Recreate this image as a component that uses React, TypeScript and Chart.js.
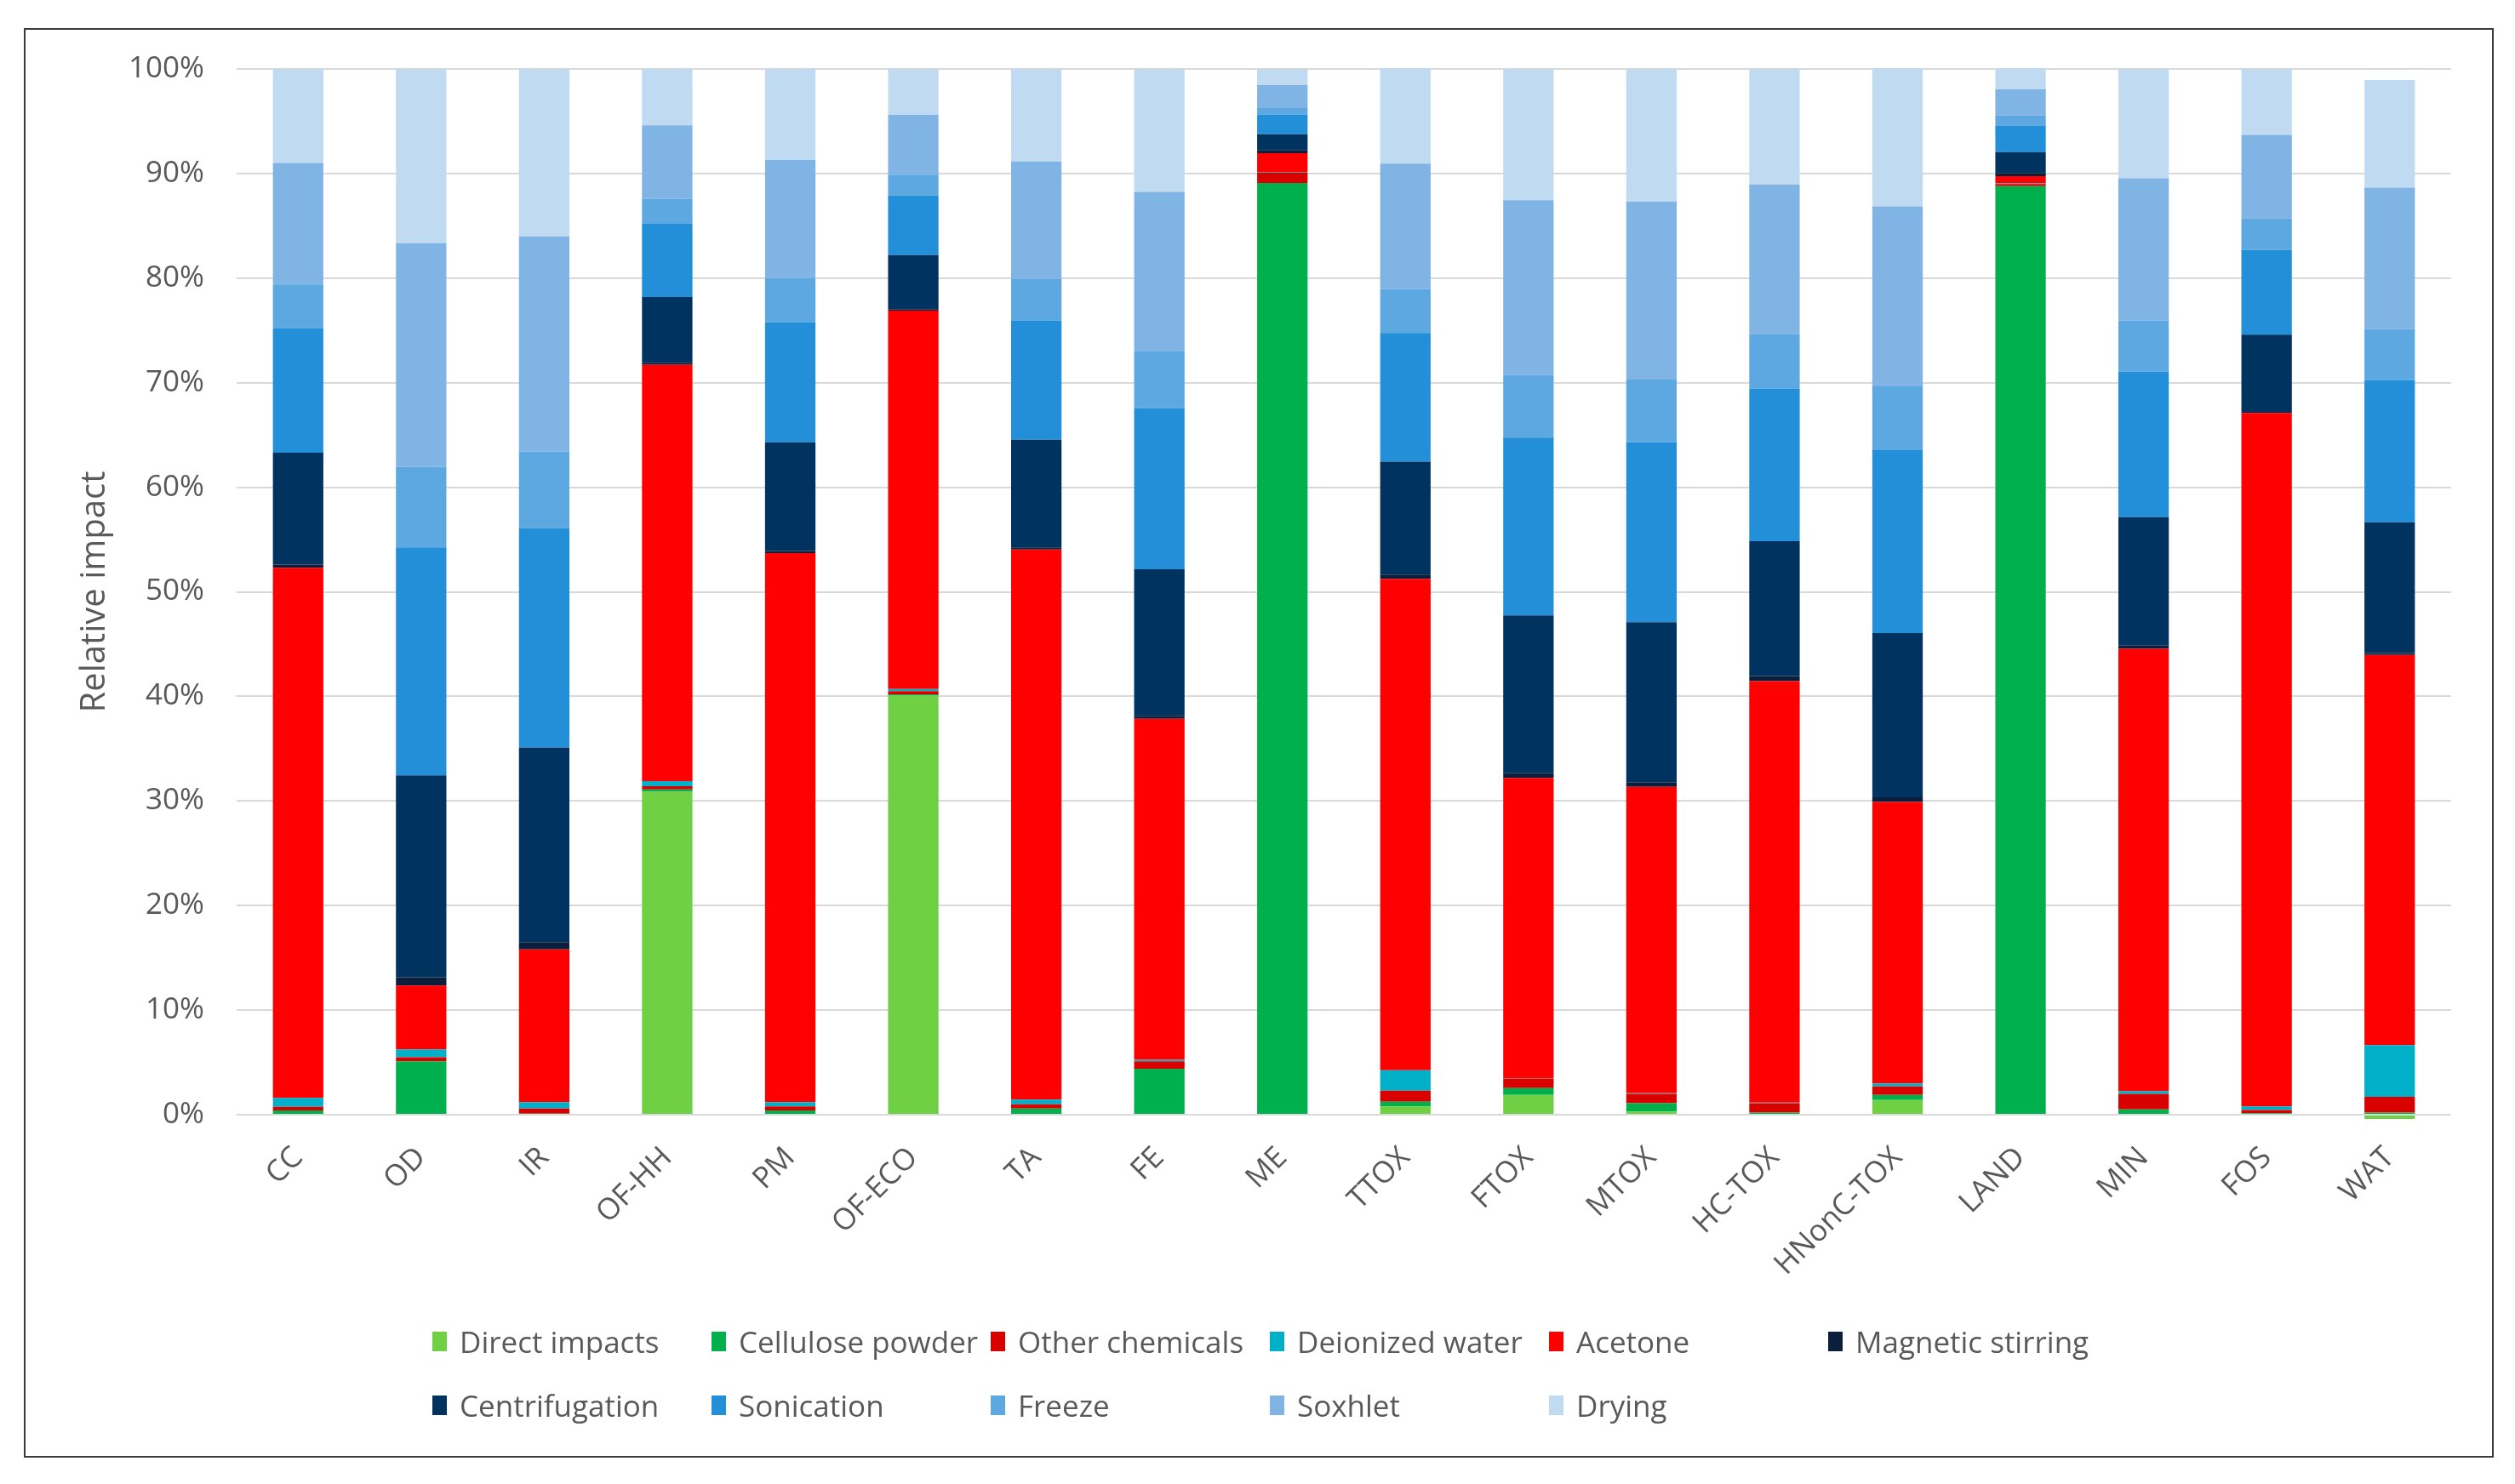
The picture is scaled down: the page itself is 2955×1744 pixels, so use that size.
import React, { useEffect, useRef } from "react";
import { Chart, registerables } from "chart.js";

Chart.register(...registerables);

const categories = ["CC", "OD", "IR", "OF-HH", "PM", "OF-ECO", "TA", "FE", "ME", "TTOX", "FTOX", "MTOX", "HC-TOX", "HNonC-TOX", "LAND", "MIN", "FOS", "WAT"];

const directImpacts = [0, 0, 0, 30.9, 0, 40.1, 0, 0, 0, 0.8, 1.9, 0.3, 0, 1.4, 0, 0, 0, -0.4];
const cellulosePowder = [0.4, 5.1, 0.1, 0.2, 0.4, 0.1, 0.6, 4.4, 89.1, 0.45, 0.65, 0.8, 0.2, 0.5, 88.8, 0.5, 0.15, 0.2];
const otherChemicals = [0.35, 0.4, 0.5, 0.3, 0.4, 0.3, 0.4, 0.7, 1.0, 1.05, 0.9, 0.9, 0.9, 0.8, 0.2, 1.5, 0.3, 1.5];
const deionizedWater = [0.85, 0.75, 0.6, 0.5, 0.4, 0.2, 0.45, 0.15, 0.05, 1.95, 0.05, 0.05, 0.05, 0.3, 0.05, 0.25, 0.35, 4.95];
const acetone = [50.7, 6.1, 14.6, 39.8, 52.5, 36.2, 52.6, 32.6, 1.8, 47.0, 28.7, 29.3, 40.3, 26.9, 0.7, 42.3, 66.3, 37.3];
const magneticStirring = [0.3, 0.8, 0.7, 0.2, 0.2, 0.1, 0.2, 0.3, 0.3, 0.4, 0.45, 0.45, 0.5, 0.45, 0.3, 0.3, 0.1, 0.2];
const centrifugation = [10.7, 19.3, 18.6, 6.3, 10.4, 5.2, 10.3, 14.0, 1.5, 10.8, 15.1, 15.3, 12.9, 15.7, 2.0, 12.3, 7.4, 12.5];
const sonication = [11.9, 21.8, 21.0, 7.0, 11.5, 5.7, 11.4, 15.4, 1.9, 12.3, 17.0, 17.2, 14.6, 17.5, 2.5, 13.9, 8.1, 13.6];
const freeze = [4.2, 7.7, 7.3, 2.4, 4.2, 2.0, 4.0, 5.5, 0.6, 4.2, 6.0, 6.0, 5.2, 6.1, 1.0, 4.9, 3.0, 4.9];
const soxhlet = [11.6, 21.4, 20.6, 7.0, 11.3, 5.7, 11.2, 15.2, 2.2, 12.0, 16.7, 17.0, 14.3, 17.2, 2.5, 13.6, 8.0, 13.5];
const drying = [9.0, 16.65, 16.0, 5.4, 8.7, 4.4, 8.85, 11.75, 1.5, 9.1, 12.55, 12.7, 11.05, 13.2, 2.0, 10.4, 6.3, 10.3];

const seriesNames = ["Direct impacts", "Cellulose powder", "Other chemicals", "Deionized water", "Acetone", "Magnetic stirring", "Centrifugation", "Sonication", "Freeze", "Soxhlet", "Drying"];
const seriesData = [directImpacts, cellulosePowder, otherChemicals, deionizedWater, acetone, magneticStirring, centrifugation, sonication, freeze, soxhlet, drying];
const seriesColors = ["#70d044", "#00b04c", "#d90000", "#00afc8", "#ff0000", "#0b1f3c", "#003360", "#228fd8", "#5da8e0", "#80b4e4", "#c0daf1"];

const FONT = "'Open Sans', sans-serif";
const TEXT = "#595959";

export default function App() {
  const ref = useRef<HTMLCanvasElement>(null);

  useEffect(() => {
    const datasets = seriesNames.map((name, i) => ({
      label: name,
      data: seriesData[i],
      backgroundColor: seriesColors[i],
      borderWidth: 0,
      barPercentage: 0.41,
      categoryPercentage: 1,
      clip: false as const,
    }));
    const chart = new Chart(ref.current!, {
      type: "bar",
      data: { labels: categories, datasets },
      options: {
        animation: false,
        responsive: true,
        maintainAspectRatio: false,
        layout: { padding: { top: 46, right: 48, left: 0, bottom: 0 } },
        plugins: { legend: { display: false }, tooltip: { enabled: false } },
        scales: {
          x: {
            stacked: true,
            grid: { display: false, drawTicks: false },
            border: { display: false },
            ticks: {
              font: { family: FONT, size: 35 },
              color: TEXT,
              maxRotation: 45,
              minRotation: 45,
              autoSkip: false,
              padding: 30,
            },
            afterFit: (s: any) => {
              s.height = 398;
            },
          },
          y: {
            stacked: true,
            min: 0,
            max: 100,
            grid: {
              color: "#d9d9d9",
              lineWidth: 2,
              drawTicks: true,
              tickLength: 38,
              tickColor: "rgba(0,0,0,0)",
            },
            border: { display: false },
            ticks: {
              stepSize: 10,
              callback: (v: any) => v + "%",
              font: { family: FONT, size: 35 },
              color: TEXT,
              padding: 0,
            },
            title: {
              display: true,
              text: "Relative impact",
              font: { family: FONT, size: 40 },
              color: TEXT,
              padding: { top: 58, bottom: 0 },
            },
            afterFit: (s: any) => {
              s.width = 248;
            },
          },
        },
      },
    });
    return () => chart.destroy();
  }, []);

  const rows = [seriesNames.slice(0, 6), seriesNames.slice(6)];

  return (
    <div
      style={{
        position: "absolute",
        left: 28,
        top: 33,
        width: 2902,
        height: 1680,
        border: "2px solid #3a3a3a",
        boxSizing: "border-box",
        background: "#fff",
      }}
    >
      <div style={{ position: "absolute", left: 0, top: 0, width: 2898, height: 1673 }}>
        <canvas ref={ref} />
      </div>
      {rows.map((row, r) =>
        row.map((name, k) => {
          const idx = r * 6 + k;
          return (
            <div
              key={name}
              style={{
                position: "absolute",
                left: 478 + 328 * k,
                top: (r === 0 ? 1541 : 1616) - 25,
                height: 50,
                display: "flex",
                alignItems: "center",
                fontFamily: FONT,
                fontSize: 35,
                color: TEXT,
                whiteSpace: "nowrap",
              }}
            >
              <span
                style={{
                  display: "inline-block",
                  width: 17,
                  height: 23,
                  background: seriesColors[idx],
                  marginRight: 15,
                }}
              />
              <span>{name}</span>
            </div>
          );
        })
      )}
    </div>
  );
}
